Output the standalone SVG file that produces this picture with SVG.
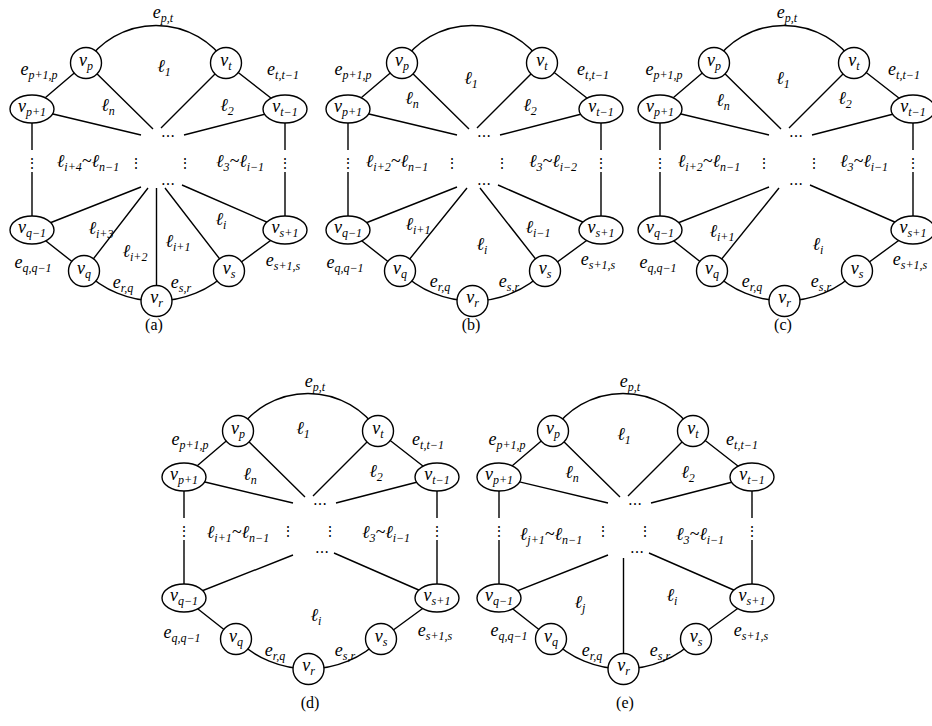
<svg xmlns="http://www.w3.org/2000/svg" width="932" height="726" viewBox="0 0 932 726">
<style>
.ln{fill:none;stroke:#000;stroke-width:1.4}
.nd{fill:#fff;stroke:#000;stroke-width:1.4}
text{font-family:"Liberation Serif","DejaVu Serif",serif;font-size:18px;fill:#000;text-anchor:middle}
.i{font-style:italic}
.s{font-size:12px}
.dt{font-family:"DejaVu Serif",serif;font-size:14px}
.cap{font-size:16px}
</style>
<defs>
<path id="common" class="ln" d="M402,63 A84,84 0 0 1 542,63 M348,109 L402,63 M542,63 L601,109 M402,63 L469,129 M542,63 L477,128 M348,109 L457,135 M601,109 L500,135 M348,109 V150 M348,172 V230 M601,109 V150 M601,172 V230 M348,230 L457,187 M601,230 L498,185 M348,230 L400,271 M545,271 L601,230 M400,271 A102.6,102.6 0 0 0 472.5,301 M472.5,301 A102.6,102.6 0 0 0 545,271"/>
</defs>

<!-- Panel (a) -->
<g id="panel-a" transform="translate(-316,0)">
<g id="a-connectors">
<use href="#common"/>
<path class="ln" d="M400,271 L464,188 M472.5,301 V188 M545,271 L481,188"/>
</g>
<g id="a-dots">
<text class="dt" x="484" y="137">…</text><text class="dt" x="484" y="185">…</text>
<text class="dt" x="348" y="168">⋮</text><text class="dt" x="452" y="168">⋮</text><text class="dt" x="501" y="168">⋮</text><text class="dt" x="601" y="168">⋮</text>
</g>
<g id="a-vp"><circle class="nd" cx="402" cy="63" r="15.5"/><text class="i" x="402" y="66">v<tspan class="s" dy="4">p</tspan></text></g>
<g id="a-vt"><circle class="nd" cx="542" cy="63" r="15.5"/><text class="i" x="542" y="66">v<tspan class="s" dy="4">t</tspan></text></g>
<g id="a-vp1"><ellipse class="nd" cx="348" cy="109" rx="22" ry="14"/><text class="i" x="348" y="112">v<tspan class="s" dy="4">p+1</tspan></text></g>
<g id="a-vt1"><ellipse class="nd" cx="601" cy="109" rx="22" ry="14"/><text class="i" x="601" y="112">v<tspan class="s" dy="4">t−1</tspan></text></g>
<g id="a-vq1"><ellipse class="nd" cx="348" cy="230" rx="22" ry="14"/><text class="i" x="348" y="233">v<tspan class="s" dy="4">q−1</tspan></text></g>
<g id="a-vs1"><ellipse class="nd" cx="601" cy="230" rx="22" ry="14"/><text class="i" x="601" y="233">v<tspan class="s" dy="4">s+1</tspan></text></g>
<g id="a-vq"><circle class="nd" cx="400" cy="271" r="15.5"/><text class="i" x="400" y="274">v<tspan class="s" dy="4">q</tspan></text></g>
<g id="a-vr"><circle class="nd" cx="472.5" cy="301" r="15.5"/><text class="i" x="472.5" y="303">v<tspan class="s" dy="4">r</tspan></text></g>
<g id="a-vs"><circle class="nd" cx="545" cy="271" r="15.5"/><text class="i" x="545" y="274">v<tspan class="s" dy="4">s</tspan></text></g>
</g>

<!-- Panel (b) -->
<g id="panel-b">
<g id="b-connectors">
<use href="#common"/>
<path class="ln" d="M400,271 L467,188 M545,271 L480,188"/>
</g>
<g id="b-dots">
<text class="dt" x="484" y="137">…</text><text class="dt" x="484" y="185">…</text>
<text class="dt" x="348" y="168">⋮</text><text class="dt" x="452" y="168">⋮</text><text class="dt" x="502" y="168">⋮</text><text class="dt" x="601" y="168">⋮</text>
</g>
<g id="b-vp"><circle class="nd" cx="402" cy="63" r="15.5"/><text class="i" x="402" y="66">v<tspan class="s" dy="4">p</tspan></text></g>
<g id="b-vt"><circle class="nd" cx="542" cy="63" r="15.5"/><text class="i" x="542" y="66">v<tspan class="s" dy="4">t</tspan></text></g>
<g id="b-vp1"><ellipse class="nd" cx="348" cy="109" rx="22" ry="14"/><text class="i" x="348" y="112">v<tspan class="s" dy="4">p+1</tspan></text></g>
<g id="b-vt1"><ellipse class="nd" cx="601" cy="109" rx="22" ry="14"/><text class="i" x="601" y="112">v<tspan class="s" dy="4">t−1</tspan></text></g>
<g id="b-vq1"><ellipse class="nd" cx="348" cy="230" rx="22" ry="14"/><text class="i" x="348" y="233">v<tspan class="s" dy="4">q−1</tspan></text></g>
<g id="b-vs1"><ellipse class="nd" cx="601" cy="230" rx="22" ry="14"/><text class="i" x="601" y="233">v<tspan class="s" dy="4">s+1</tspan></text></g>
<g id="b-vq"><circle class="nd" cx="400" cy="271" r="15.5"/><text class="i" x="400" y="274">v<tspan class="s" dy="4">q</tspan></text></g>
<g id="b-vr"><circle class="nd" cx="472.5" cy="301" r="15.5"/><text class="i" x="472.5" y="303">v<tspan class="s" dy="4">r</tspan></text></g>
<g id="b-vs"><circle class="nd" cx="545" cy="271" r="15.5"/><text class="i" x="545" y="274">v<tspan class="s" dy="4">s</tspan></text></g>
</g>

<!-- Panel (c) -->
<g id="panel-c" transform="translate(312,0)">
<g id="c-connectors">
<use href="#common"/>
<path class="ln" d="M400,271 L467,188"/>
</g>
<g id="c-dots">
<text class="dt" x="484" y="137">…</text><text class="dt" x="484" y="185">…</text>
<text class="dt" x="348" y="168">⋮</text><text class="dt" x="452" y="168">⋮</text><text class="dt" x="502" y="168">⋮</text><text class="dt" x="601" y="168">⋮</text>
</g>
<g id="c-vp"><circle class="nd" cx="402" cy="63" r="15.5"/><text class="i" x="402" y="66">v<tspan class="s" dy="4">p</tspan></text></g>
<g id="c-vt"><circle class="nd" cx="542" cy="63" r="15.5"/><text class="i" x="542" y="66">v<tspan class="s" dy="4">t</tspan></text></g>
<g id="c-vp1"><ellipse class="nd" cx="348" cy="109" rx="22" ry="14"/><text class="i" x="348" y="112">v<tspan class="s" dy="4">p+1</tspan></text></g>
<g id="c-vt1"><ellipse class="nd" cx="601" cy="109" rx="22" ry="14"/><text class="i" x="601" y="112">v<tspan class="s" dy="4">t−1</tspan></text></g>
<g id="c-vq1"><ellipse class="nd" cx="348" cy="230" rx="22" ry="14"/><text class="i" x="348" y="233">v<tspan class="s" dy="4">q−1</tspan></text></g>
<g id="c-vs1"><ellipse class="nd" cx="601" cy="230" rx="22" ry="14"/><text class="i" x="601" y="233">v<tspan class="s" dy="4">s+1</tspan></text></g>
<g id="c-vq"><circle class="nd" cx="400" cy="271" r="15.5"/><text class="i" x="400" y="274">v<tspan class="s" dy="4">q</tspan></text></g>
<g id="c-vr"><circle class="nd" cx="472.5" cy="301" r="15.5"/><text class="i" x="472.5" y="303">v<tspan class="s" dy="4">r</tspan></text></g>
<g id="c-vs"><circle class="nd" cx="545" cy="271" r="15.5"/><text class="i" x="545" y="274">v<tspan class="s" dy="4">s</tspan></text></g>
</g>

<!-- Panel (d) -->
<g id="panel-d" transform="translate(-164,368)">
<g id="d-connectors">
<use href="#common"/>
</g>
<g id="d-dots">
<text class="dt" x="484" y="137">…</text><text class="dt" x="486" y="185">…</text>
<text class="dt" x="348" y="168">⋮</text><text class="dt" x="452" y="168">⋮</text><text class="dt" x="494" y="168">⋮</text><text class="dt" x="601" y="168">⋮</text>
</g>
<g id="d-vp"><circle class="nd" cx="402" cy="63" r="15.5"/><text class="i" x="402" y="66">v<tspan class="s" dy="4">p</tspan></text></g>
<g id="d-vt"><circle class="nd" cx="542" cy="63" r="15.5"/><text class="i" x="542" y="66">v<tspan class="s" dy="4">t</tspan></text></g>
<g id="d-vp1"><ellipse class="nd" cx="348" cy="109" rx="22" ry="14"/><text class="i" x="348" y="112">v<tspan class="s" dy="4">p+1</tspan></text></g>
<g id="d-vt1"><ellipse class="nd" cx="601" cy="109" rx="22" ry="14"/><text class="i" x="601" y="112">v<tspan class="s" dy="4">t−1</tspan></text></g>
<g id="d-vq1"><ellipse class="nd" cx="348" cy="230" rx="22" ry="14"/><text class="i" x="348" y="233">v<tspan class="s" dy="4">q−1</tspan></text></g>
<g id="d-vs1"><ellipse class="nd" cx="601" cy="230" rx="22" ry="14"/><text class="i" x="601" y="233">v<tspan class="s" dy="4">s+1</tspan></text></g>
<g id="d-vq"><circle class="nd" cx="400" cy="271" r="15.5"/><text class="i" x="400" y="274">v<tspan class="s" dy="4">q</tspan></text></g>
<g id="d-vr"><circle class="nd" cx="472.5" cy="301" r="15.5"/><text class="i" x="472.5" y="303">v<tspan class="s" dy="4">r</tspan></text></g>
<g id="d-vs"><circle class="nd" cx="545" cy="271" r="15.5"/><text class="i" x="545" y="274">v<tspan class="s" dy="4">s</tspan></text></g>
</g>

<!-- Panel (e) -->
<g id="panel-e" transform="translate(151,368)">
<g id="e-connectors">
<use href="#common"/>
<path class="ln" d="M472.5,301 V190"/>
</g>
<g id="e-dots">
<text class="dt" x="484" y="137">…</text><text class="dt" x="486" y="185">…</text>
<text class="dt" x="348" y="168">⋮</text><text class="dt" x="452" y="168">⋮</text><text class="dt" x="494" y="168">⋮</text><text class="dt" x="601" y="168">⋮</text>
</g>
<g id="e-vp"><circle class="nd" cx="402" cy="63" r="15.5"/><text class="i" x="402" y="66">v<tspan class="s" dy="4">p</tspan></text></g>
<g id="e-vt"><circle class="nd" cx="542" cy="63" r="15.5"/><text class="i" x="542" y="66">v<tspan class="s" dy="4">t</tspan></text></g>
<g id="e-vp1"><ellipse class="nd" cx="348" cy="109" rx="22" ry="14"/><text class="i" x="348" y="112">v<tspan class="s" dy="4">p+1</tspan></text></g>
<g id="e-vt1"><ellipse class="nd" cx="601" cy="109" rx="22" ry="14"/><text class="i" x="601" y="112">v<tspan class="s" dy="4">t−1</tspan></text></g>
<g id="e-vq1"><ellipse class="nd" cx="348" cy="230" rx="22" ry="14"/><text class="i" x="348" y="233">v<tspan class="s" dy="4">q−1</tspan></text></g>
<g id="e-vs1"><ellipse class="nd" cx="601" cy="230" rx="22" ry="14"/><text class="i" x="601" y="233">v<tspan class="s" dy="4">s+1</tspan></text></g>
<g id="e-vq"><circle class="nd" cx="400" cy="271" r="15.5"/><text class="i" x="400" y="274">v<tspan class="s" dy="4">q</tspan></text></g>
<g id="e-vr"><circle class="nd" cx="472.5" cy="301" r="15.5"/><text class="i" x="472.5" y="303">v<tspan class="s" dy="4">r</tspan></text></g>
<g id="e-vs"><circle class="nd" cx="545" cy="271" r="15.5"/><text class="i" x="545" y="274">v<tspan class="s" dy="4">s</tspan></text></g>
</g>

<!-- Labels -->
<g id="labels-a" class="i">
<text x="163" y="18">e<tspan class="s" dy="4">p,t</tspan></text>
<text x="164" y="72">ℓ<tspan class="s" dy="4">1</tspan></text>
<text x="39" y="75">e<tspan class="s" dy="4">p+1,p</tspan></text>
<text x="283" y="75">e<tspan class="s" dy="4">t,t−1</tspan></text>
<text x="108" y="111">ℓ<tspan class="s" dy="4">n</tspan></text>
<text x="227" y="111">ℓ<tspan class="s" dy="4">2</tspan></text>
<text x="88" y="167">ℓ<tspan class="s" dy="4">i+4</tspan><tspan dy="-4">~ℓ</tspan><tspan class="s" dy="4">n−1</tspan></text>
<text x="240" y="167">ℓ<tspan class="s" dy="4">3</tspan><tspan dy="-4">~ℓ</tspan><tspan class="s" dy="4">i−1</tspan></text>
<text x="101" y="234">ℓ<tspan class="s" dy="4">i+3</tspan></text>
<text x="135" y="257">ℓ<tspan class="s" dy="4">i+2</tspan></text>
<text x="178" y="247">ℓ<tspan class="s" dy="4">i+1</tspan></text>
<text x="221" y="225">ℓ<tspan class="s" dy="4">i</tspan></text>
<text x="33" y="268">e<tspan class="s" dy="4">q,q−1</tspan></text>
<text x="283" y="266">e<tspan class="s" dy="4">s+1,s</tspan></text>
<text x="123" y="288">e<tspan class="s" dy="4">r,q</tspan></text>
<text x="181" y="288">e<tspan class="s" dy="4">s,r</tspan></text>
</g>
<g id="labels-b" class="i">
<text x="353" y="75">e<tspan class="s" dy="4">p+1,p</tspan></text>
<text x="593" y="75">e<tspan class="s" dy="4">t,t−1</tspan></text>
<text x="471" y="84">ℓ<tspan class="s" dy="4">1</tspan></text>
<text x="412" y="104">ℓ<tspan class="s" dy="4">n</tspan></text>
<text x="530" y="111">ℓ<tspan class="s" dy="4">2</tspan></text>
<text x="397" y="167">ℓ<tspan class="s" dy="4">i+2</tspan><tspan dy="-4">~ℓ</tspan><tspan class="s" dy="4">n−1</tspan></text>
<text x="553" y="167">ℓ<tspan class="s" dy="4">3</tspan><tspan dy="-4">~ℓ</tspan><tspan class="s" dy="4">i−2</tspan></text>
<text x="418" y="230">ℓ<tspan class="s" dy="4">i+1</tspan></text>
<text x="482" y="250">ℓ<tspan class="s" dy="4">i</tspan></text>
<text x="538" y="233">ℓ<tspan class="s" dy="4">i−1</tspan></text>
<text x="345" y="268">e<tspan class="s" dy="4">q,q−1</tspan></text>
<text x="598" y="265">e<tspan class="s" dy="4">s+1,s</tspan></text>
<text x="440" y="287">e<tspan class="s" dy="4">r,q</tspan></text>
<text x="509" y="287">e<tspan class="s" dy="4">s,r</tspan></text>
</g>
<g id="labels-c" class="i">
<text x="787" y="18">e<tspan class="s" dy="4">p,t</tspan></text>
<text x="664" y="75">e<tspan class="s" dy="4">p+1,p</tspan></text>
<text x="904" y="75">e<tspan class="s" dy="4">t,t−1</tspan></text>
<text x="783" y="84">ℓ<tspan class="s" dy="4">1</tspan></text>
<text x="723" y="106">ℓ<tspan class="s" dy="4">n</tspan></text>
<text x="845" y="104">ℓ<tspan class="s" dy="4">2</tspan></text>
<text x="709" y="167">ℓ<tspan class="s" dy="4">i+2</tspan><tspan dy="-4">~ℓ</tspan><tspan class="s" dy="4">n−1</tspan></text>
<text x="864" y="167">ℓ<tspan class="s" dy="4">3</tspan><tspan dy="-4">~ℓ</tspan><tspan class="s" dy="4">i−1</tspan></text>
<text x="722" y="237">ℓ<tspan class="s" dy="4">i+1</tspan></text>
<text x="818" y="250">ℓ<tspan class="s" dy="4">i</tspan></text>
<text x="658" y="268">e<tspan class="s" dy="4">q,q−1</tspan></text>
<text x="910" y="265">e<tspan class="s" dy="4">s+1,s</tspan></text>
<text x="752" y="287">e<tspan class="s" dy="4">r,q</tspan></text>
<text x="821" y="287">e<tspan class="s" dy="4">s,r</tspan></text>
</g>
<g id="labels-d" class="i">
<text x="315" y="387">e<tspan class="s" dy="4">p,t</tspan></text>
<text x="303" y="434">ℓ<tspan class="s" dy="4">1</tspan></text>
<text x="190" y="445">e<tspan class="s" dy="4">p+1,p</tspan></text>
<text x="428" y="445">e<tspan class="s" dy="4">t,t−1</tspan></text>
<text x="250" y="480">ℓ<tspan class="s" dy="4">n</tspan></text>
<text x="376" y="477">ℓ<tspan class="s" dy="4">2</tspan></text>
<text x="238" y="538">ℓ<tspan class="s" dy="4">i+1</tspan><tspan dy="-4">~ℓ</tspan><tspan class="s" dy="4">n−1</tspan></text>
<text x="386" y="538">ℓ<tspan class="s" dy="4">3</tspan><tspan dy="-4">~ℓ</tspan><tspan class="s" dy="4">i−1</tspan></text>
<text x="316" y="621">ℓ<tspan class="s" dy="4">i</tspan></text>
<text x="182" y="638">e<tspan class="s" dy="4">q,q−1</tspan></text>
<text x="435" y="636">e<tspan class="s" dy="4">s+1,s</tspan></text>
<text x="275" y="656">e<tspan class="s" dy="4">r,q</tspan></text>
<text x="345" y="656">e<tspan class="s" dy="4">s,r</tspan></text>
</g>
<g id="labels-e" class="i">
<text x="630" y="387">e<tspan class="s" dy="4">p,t</tspan></text>
<text x="624" y="440">ℓ<tspan class="s" dy="4">1</tspan></text>
<text x="507" y="445">e<tspan class="s" dy="4">p+1,p</tspan></text>
<text x="742" y="445">e<tspan class="s" dy="4">t,t−1</tspan></text>
<text x="572" y="478">ℓ<tspan class="s" dy="4">n</tspan></text>
<text x="688" y="478">ℓ<tspan class="s" dy="4">2</tspan></text>
<text x="551" y="540">ℓ<tspan class="s" dy="4">j+1</tspan><tspan dy="-4">~ℓ</tspan><tspan class="s" dy="4">n−1</tspan></text>
<text x="700" y="540">ℓ<tspan class="s" dy="4">3</tspan><tspan dy="-4">~ℓ</tspan><tspan class="s" dy="4">i−1</tspan></text>
<text x="580" y="608">ℓ<tspan class="s" dy="4">j</tspan></text>
<text x="672" y="601">ℓ<tspan class="s" dy="4">i</tspan></text>
<text x="509" y="636">e<tspan class="s" dy="4">q,q−1</tspan></text>
<text x="751" y="636">e<tspan class="s" dy="4">s+1,s</tspan></text>
<text x="592" y="656">e<tspan class="s" dy="4">r,q</tspan></text>
<text x="660" y="656">e<tspan class="s" dy="4">s,r</tspan></text>
</g>
<g id="captions">
<text class="cap" x="154" y="330">(a)</text>
<text class="cap" x="471" y="330">(b)</text>
<text class="cap" x="783" y="330">(c)</text>
<text class="cap" x="310" y="708">(d)</text>
<text class="cap" x="625" y="708">(e)</text>
</g>
</svg>
